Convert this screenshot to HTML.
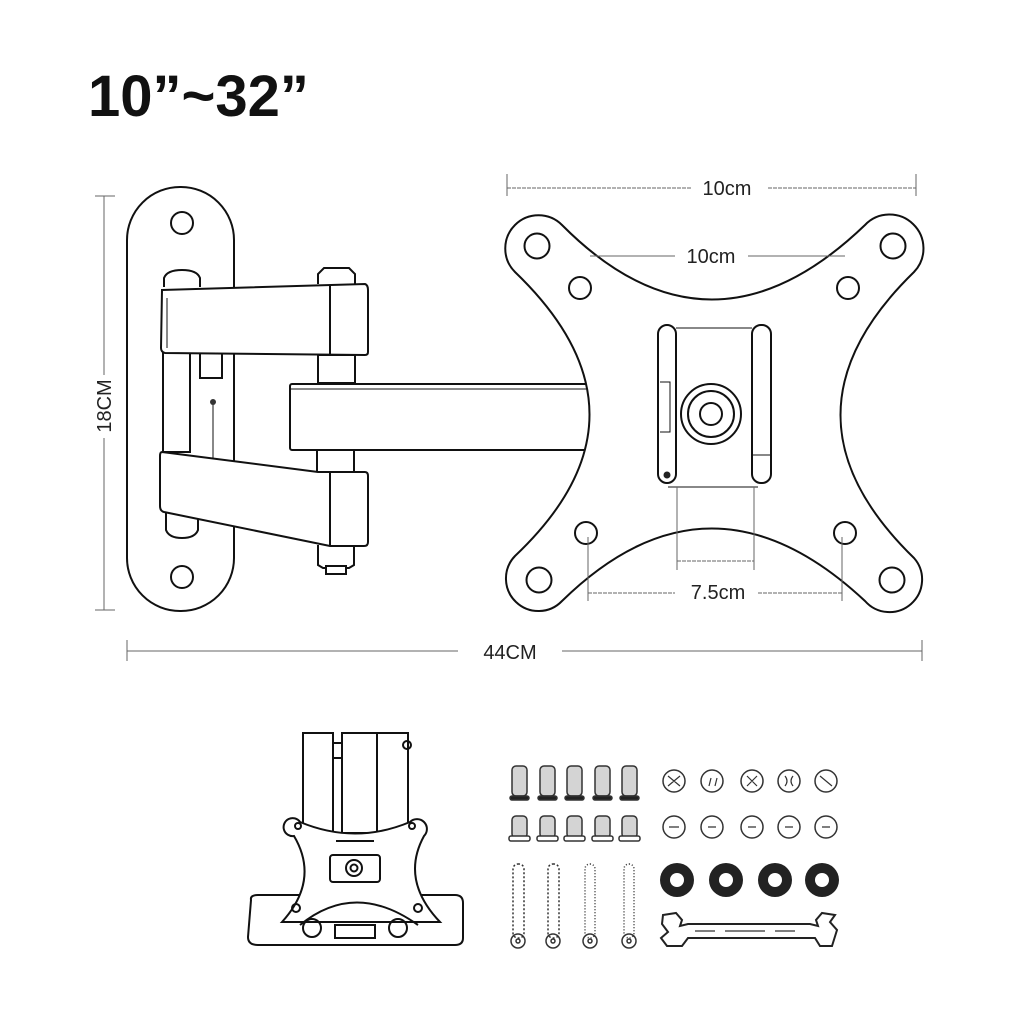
<!DOCTYPE html>
<html><head><meta charset="utf-8"><style>
html,body{margin:0;padding:0;background:#fff;}
svg{display:block}
text{font-family:"Liberation Sans",sans-serif;fill:#222}
</style></head><body>
<svg width="1024" height="1024" viewBox="0 0 1024 1024" xmlns="http://www.w3.org/2000/svg">
<rect width="1024" height="1024" fill="#fff"/>
<text x="88" y="116" font-size="58" font-weight="bold" fill="#111" style="fill:#111">10”~32”</text>

<g fill="none" stroke="#111" stroke-width="2">
<rect x="127" y="187" width="107" height="424" rx="53"/>
<circle cx="182" cy="223" r="11"/><circle cx="182" cy="577" r="11"/>
<rect x="163" y="352" width="27" height="100" fill="#fff"/>
<rect x="200" y="352" width="22" height="26"/>
<path d="M164,287 v-9 q3,-8 18,-8 q15,0 18,8 v9" fill="#fff"/>
<path d="M318,284 v-10 l6,-6 h25 l6,6 v10" fill="#fff"/>
<rect x="318" y="355" width="37" height="28" fill="#fff"/>
<rect x="322" y="383" width="30" height="6" fill="#fff"/>
<rect x="317" y="450" width="37" height="22" fill="#fff"/>
<path d="M166,510 v20 q3,8 16,8 q13,0 16,-8 v-20" fill="#fff"/>
<path d="M318,545 v20 l5,3 h26 l5,-3 v-20" fill="#fff"/>
<rect x="326" y="566" width="20" height="8" fill="#fff"/>
<path d="M162,290 L365,284 Q368,285 368,290 L368,352 Q368,355 365,355 L165,353 Q161,352 161,348 Z" fill="#fff"/>
<line x1="330" y1="285" x2="330" y2="354"/><line x1="167" y1="298" x2="167" y2="348" stroke-width="1"/>
<rect x="290" y="384" width="300" height="66" rx="2" fill="#fff"/>
<line x1="290" y1="389" x2="590" y2="389" stroke-width="1"/>
<path d="M162,452 L318,472 L365,472 Q368,472 368,476 L368,542 Q368,546 364,546 L330,546 L164,512 Q160,511 160,506 L160,456 Q160,452 162,452 Z" fill="#fff"/>
<line x1="330" y1="473" x2="330" y2="545"/>
<line x1="213" y1="402" x2="213" y2="458" stroke-width="1"/>
</g>
<circle cx="213" cy="402" r="3" fill="#333"/>

<g fill="none" stroke="#111" stroke-width="2">
<path d="M562,225 Q710,374 865,225 A31 31 0 1 1 914,272 Q767,415 914,558 A31 31 0 1 1 865,601 Q710,456 562,601 A31 31 0 1 1 515,556 Q664,415 515,272 A31 31 0 1 1 562,225 Z" fill="#fff"/>
<circle cx="537" cy="246" r="12.5"/><circle cx="893" cy="246" r="12.5"/>
<circle cx="539" cy="580" r="12.5"/><circle cx="892" cy="580" r="12.5"/>
<circle cx="580" cy="288" r="11"/><circle cx="848" cy="288" r="11"/>
<circle cx="586" cy="533" r="11"/><circle cx="845" cy="533" r="11"/>
<rect x="658" y="325" width="18" height="158" rx="9"/>
<rect x="752" y="325" width="19" height="158" rx="9"/>
<line x1="676" y1="328" x2="752" y2="328" stroke-width="1"/>
<line x1="668" y1="487" x2="758" y2="487" stroke-width="1"/>
<line x1="752" y1="455" x2="771" y2="455" stroke-width="1"/>
<path d="M660,382 h10 v50 h-10" stroke-width="1"/>
<circle cx="711" cy="414" r="30"/>
<circle cx="711" cy="414" r="23"/>
<circle cx="711" cy="414" r="11"/>
</g>
<circle cx="667" cy="475" r="3.5" fill="#222"/>

<g stroke="#666" stroke-width="1" fill="none">
<line x1="507" y1="188" x2="692" y2="188" stroke-dasharray="4,1"/>
<line x1="768" y1="188" x2="916" y2="188" stroke-dasharray="4,1"/>
<line x1="507" y1="174" x2="507" y2="196"/><line x1="916" y1="174" x2="916" y2="196"/>
<line x1="590" y1="256" x2="675" y2="256"/><line x1="748" y1="256" x2="845" y2="256"/>
<line x1="588" y1="537" x2="588" y2="601"/><line x1="842" y1="537" x2="842" y2="601"/>
<line x1="588" y1="593" x2="675" y2="593" stroke-dasharray="4,1"/>
<line x1="758" y1="593" x2="842" y2="593" stroke-dasharray="4,1"/>
<line x1="677" y1="487" x2="677" y2="570"/><line x1="754" y1="487" x2="754" y2="570"/>
<line x1="677" y1="561" x2="754" y2="561" stroke-dasharray="4,1"/>
<line x1="104" y1="196" x2="104" y2="375"/><line x1="104" y1="438" x2="104" y2="610"/>
<line x1="95" y1="196" x2="115" y2="196"/><line x1="95" y1="610" x2="115" y2="610"/>
<line x1="127" y1="651" x2="458" y2="651"/><line x1="562" y1="651" x2="922" y2="651"/>
<line x1="127" y1="640" x2="127" y2="661"/><line x1="922" y1="640" x2="922" y2="661"/>
</g>
<text x="727" y="195" font-size="20" text-anchor="middle">10cm</text>
<text x="711" y="263" font-size="20" text-anchor="middle">10cm</text>
<text x="718" y="599" font-size="20" text-anchor="middle">7.5cm</text>
<text x="510" y="659" font-size="20" text-anchor="middle">44CM</text>
<text transform="translate(111,406) rotate(-90)" font-size="20" text-anchor="middle">18CM</text>

<g fill="none" stroke="#111" stroke-width="2">
<rect x="303" y="733" width="30" height="100"/>
<rect x="342" y="733" width="35" height="100"/>
<rect x="377" y="733" width="31" height="100"/>
<line x1="333" y1="743" x2="342" y2="743"/><line x1="333" y1="758" x2="342" y2="758"/>
<circle cx="407" cy="745" r="4"/>
<path d="M251,900 Q250,895 258,895 L455,895 Q463,895 463,903 L463,938 Q463,945 455,945 L258,945 Q248,945 248,937 Z" fill="#fff"/>
<path d="M300,822 Q355,845 410,822 A9 9 0 1 1 424,836 Q400,880 440,922 L282,922 Q320,880 294,836 A9 9 0 1 1 300,822 Z" fill="#fff"/>
<path d="M300,925 Q355,880 418,925" />
<rect x="330" y="855" width="50" height="27" rx="3"/>
<circle cx="354" cy="868" r="8"/><circle cx="354" cy="868" r="3.5"/>
<line x1="336" y1="841" x2="374" y2="841"/>
<circle cx="298" cy="826" r="3"/><circle cx="412" cy="826" r="3"/>
<circle cx="312" cy="928" r="9"/><circle cx="398" cy="928" r="9"/>
<circle cx="296" cy="908" r="4"/><circle cx="418" cy="908" r="4"/>
<rect x="335" y="925" width="40" height="13"/>
</g>

<g stroke="#333" stroke-width="1.5">
<g fill="#d4d4d4">
<rect x="512" y="766" width="15" height="30" rx="4"/><rect x="540" y="766" width="15" height="30" rx="4"/><rect x="567" y="766" width="15" height="30" rx="4"/><rect x="595" y="766" width="15" height="30" rx="4"/><rect x="622" y="766" width="15" height="30" rx="4"/>
<rect x="512" y="816" width="15" height="22" rx="4"/><rect x="540" y="816" width="15" height="22" rx="4"/><rect x="567" y="816" width="15" height="22" rx="4"/><rect x="595" y="816" width="15" height="22" rx="4"/><rect x="622" y="816" width="15" height="22" rx="4"/>
</g>
<g fill="#222">
<rect x="510" y="796" width="19" height="4" rx="2"/><rect x="538" y="796" width="19" height="4" rx="2"/><rect x="565" y="796" width="19" height="4" rx="2"/><rect x="593" y="796" width="19" height="4" rx="2"/><rect x="620" y="796" width="19" height="4" rx="2"/>
</g>
<g fill="#fff">
<rect x="509" y="836" width="21" height="5" rx="2"/><rect x="537" y="836" width="21" height="5" rx="2"/><rect x="564" y="836" width="21" height="5" rx="2"/><rect x="592" y="836" width="21" height="5" rx="2"/><rect x="619" y="836" width="21" height="5" rx="2"/>
</g>
</g>
<g fill="none" stroke="#333" stroke-width="1.5">
<rect x="513" y="864" width="11" height="74" rx="5" stroke-dasharray="2,2"/>
<rect x="548" y="864" width="11" height="74" rx="5" stroke-dasharray="2,2"/>
<rect x="585" y="864" width="10" height="74" rx="5" stroke-dasharray="1,2"/>
<rect x="624" y="864" width="10" height="74" rx="5" stroke-dasharray="1,2"/>
<circle cx="518" cy="941" r="7"/><circle cx="553" cy="941" r="7"/><circle cx="590" cy="941" r="7"/><circle cx="629" cy="941" r="7"/>
<circle cx="518" cy="941" r="2"/><circle cx="553" cy="941" r="2"/><circle cx="590" cy="941" r="2"/><circle cx="629" cy="941" r="2"/>
<circle cx="674" cy="781" r="11"/><circle cx="712" cy="781" r="11"/><circle cx="752" cy="781" r="11"/><circle cx="789" cy="781" r="11"/><circle cx="826" cy="781" r="11"/>
<circle cx="674" cy="827" r="11"/><circle cx="712" cy="827" r="11"/><circle cx="752" cy="827" r="11"/><circle cx="789" cy="827" r="11"/><circle cx="826" cy="827" r="11"/>
<path d="M668,776 l12,10 M680,776 l-12,10 M747,776 l10,10 M757,776 l-10,10 M820,776 l12,10 M785,776 q4,5 0,10 M793,776 q-4,5 0,10 M709,786 l2,-8 M715,786 l2,-8" stroke-width="1.2"/>
<path d="M669,827 h10 M708,827 h8 M748,827 h8 M785,827 h8 M822,827 h8" stroke-width="1.2"/>
</g>
<g fill="#222">
<circle cx="677" cy="880" r="17"/><circle cx="726" cy="880" r="17"/><circle cx="775" cy="880" r="17"/><circle cx="822" cy="880" r="17"/>
</g>
<g fill="#fff">
<circle cx="677" cy="880" r="7"/><circle cx="726" cy="880" r="7"/><circle cx="775" cy="880" r="7"/><circle cx="822" cy="880" r="7"/>
</g>
<path d="M663,915 L676,913 L682,920 L680,926 L688,924 L810,924 L818,926 L816,920 L822,913 L835,915 L830,922 L837,930 L832,946 L820,946 L815,938 L688,938 L682,946 L667,946 L661,938 L668,932 L662,924 Z" fill="#fff" stroke="#222" stroke-width="2"/>
<path d="M695,931 h20 M725,931 h40 M775,931 h20" stroke="#333" stroke-width="1.2"/>
</svg>
</body></html>
